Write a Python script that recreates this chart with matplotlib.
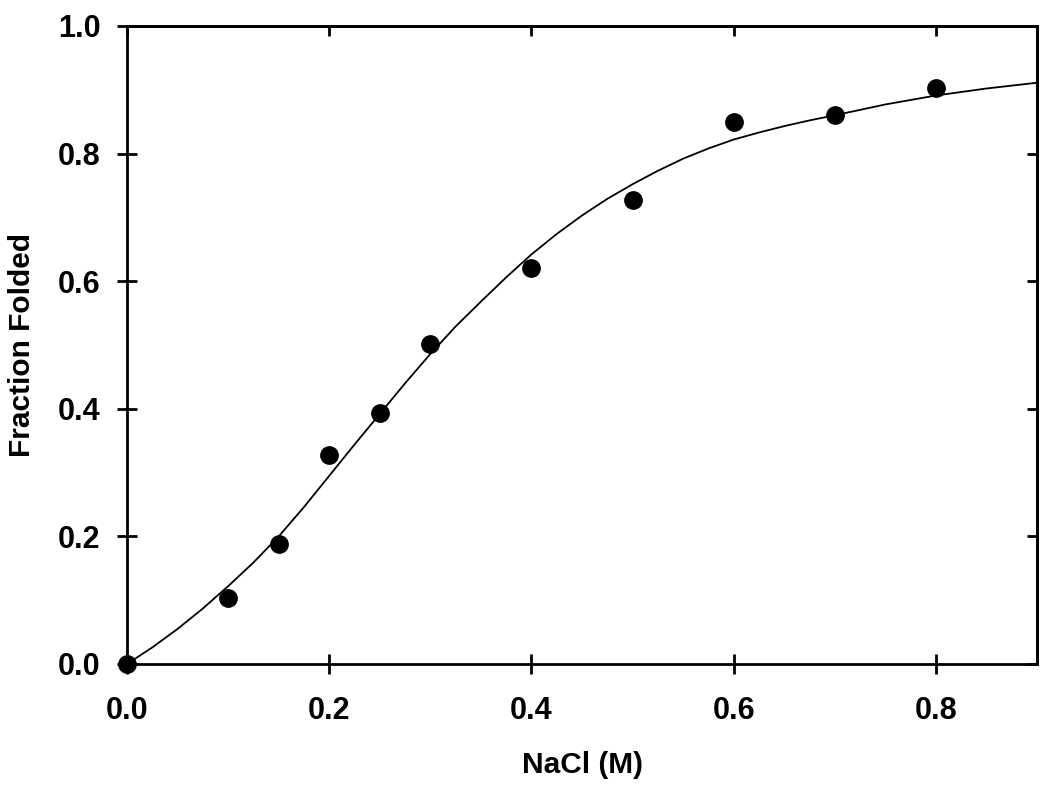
import matplotlib
matplotlib.use("Agg")
import matplotlib.pyplot as plt

# measured points
nacl = [0.0, 0.1, 0.15, 0.2, 0.25, 0.3, 0.4, 0.5, 0.6, 0.7, 0.8]
folded = [0.0, 0.104, 0.188, 0.327, 0.394, 0.501, 0.620, 0.727, 0.850, 0.861, 0.902]

# fitted curve
fit_x = [0.0, 0.025, 0.05, 0.075, 0.1, 0.125, 0.15, 0.175, 0.2, 0.225, 0.25,
         0.275, 0.3, 0.325, 0.35, 0.375, 0.4, 0.425, 0.45, 0.475, 0.5,
         0.525, 0.55, 0.575, 0.6, 0.625, 0.65, 0.675, 0.7, 0.75, 0.8, 0.85, 0.9]
fit_y = [0.0, 0.026, 0.055, 0.087, 0.122, 0.159, 0.200, 0.246, 0.295, 0.344, 0.392,
         0.440, 0.486, 0.529, 0.568, 0.606, 0.642, 0.674, 0.703, 0.729, 0.752,
         0.773, 0.792, 0.808, 0.822, 0.833, 0.843, 0.852, 0.860, 0.877, 0.891, 0.902, 0.911]

xticks = [0.0, 0.2, 0.4, 0.6, 0.8]
yticks = [0.0, 0.2, 0.4, 0.6, 0.8, 1.0]

plt.rcParams['font.family'] = ['Liberation Sans', 'DejaVu Sans']
plt.rcParams['font.weight'] = 'bold'

fig = plt.figure(figsize=(10.5, 7.87), dpi=100)
ax = fig.add_axes([0.121, 0.1563, 0.8666, 0.8107])

ax.plot(fit_x, fit_y, color='black', lw=1.3, zorder=2)
ax.plot(nacl, folded, 'o', color='black', ms=12.5, zorder=3, clip_on=False)

ax.set_xlim(0, 0.9)
ax.set_ylim(0, 1.0)
ax.set_xticks(xticks)
ax.set_yticks(yticks)
ax.set_xticklabels([f"{t:.1f}" for t in xticks])
ax.set_yticklabels([f"{t:.1f}" for t in yticks])

for s in ax.spines.values():
    s.set_linewidth(2)

ax.tick_params(axis='x', bottom=True, top=False, direction='inout', length=14,
               width=2, labelsize=22, pad=16)
ax.tick_params(axis='y', left=True, right=False, direction='inout', length=14,
               width=2, labelsize=22, pad=12)

# top / right ticks point inward only
top = ax.secondary_xaxis('top')
top.set_xticks(xticks)
top.tick_params(direction='in', length=7, width=2, labelsize=0)
top.set_xticklabels([])
right = ax.secondary_yaxis('right')
right.set_yticks(yticks)
right.tick_params(direction='in', length=7, width=2)
right.set_yticklabels([])
top.spines['top'].set_linewidth(2)
right.spines['right'].set_linewidth(2)

ax.set_xlabel("NaCl (M)", fontsize=21.5, fontweight='bold', labelpad=18)
ax.set_ylabel("Fraction Folded", fontsize=21.5, fontweight='bold', labelpad=16)

fig.savefig("out.png", dpi=100)
